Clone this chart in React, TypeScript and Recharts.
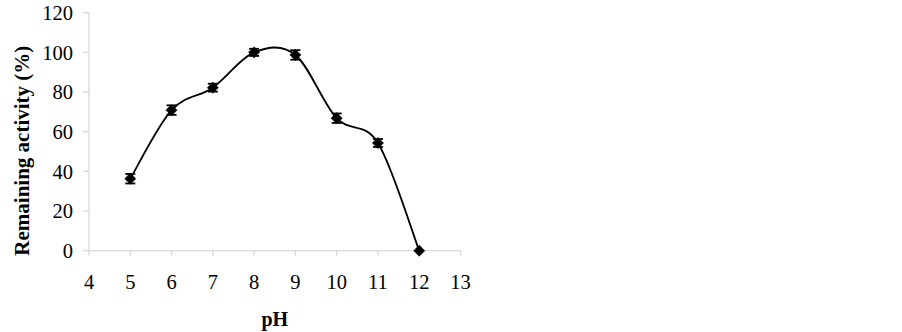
import React from "react";
import { LineChart, Line, XAxis, YAxis, ErrorBar } from "recharts";

const phValues = [5, 6, 7, 8, 9, 10, 11, 12];
const activity = [36.3, 70.9, 82.2, 100, 98.7, 66.8, 54.3, 0];
const errors = [2.4, 2.4, 2, 1.8, 2.4, 2.4, 2, 0];
const xTicks = [4, 5, 6, 7, 8, 9, 10, 11, 12, 13];
const yTicks = [0, 20, 40, 60, 80, 100, 120];

const data = phValues.map((ph, i) => ({ ph, act: activity[i], err: errors[i] }));

const FONT = "'Liberation Serif', 'Times New Roman', serif";
const GRAY = "#d9d9d9";

// Excel-like smoothed line (Catmull-Rom / cardinal tension 0)
function smoothCurve(context: any) {
  let pts: number[][] = [];
  return {
    areaStart() {},
    areaEnd() {},
    lineStart() {
      pts = [];
    },
    point(x: number, y: number) {
      pts.push([+x, +y]);
    },
    lineEnd() {
      const n = pts.length;
      if (!n) return;
      context.moveTo(pts[0][0], pts[0][1]);
      for (let i = 0; i < n - 1; i++) {
        const p0 = pts[Math.max(i - 1, 0)];
        const p1 = pts[i];
        const p2 = pts[i + 1];
        const p3 = pts[Math.min(i + 2, n - 1)];
        context.bezierCurveTo(
          p1[0] + (p2[0] - p0[0]) / 6,
          p1[1] + (p2[1] - p0[1]) / 6,
          p2[0] - (p3[0] - p1[0]) / 6,
          p2[1] - (p3[1] - p1[1]) / 6,
          p2[0],
          p2[1]
        );
      }
    },
  };
}

const Diamond = (props: any) => {
  const { cx, cy, index } = props;
  if (cx == null || cy == null) return <g key={index} />;
  const r = 5.6;
  return (
    <polygon
      key={index}
      points={`${cx},${cy - r} ${cx + r},${cy} ${cx},${cy + r} ${cx - r},${cy}`}
      fill="#000"
      stroke="#000"
      strokeWidth={0.5}
    />
  );
};

export default function App() {
  return (
    <div style={{ position: "absolute", left: 0, top: 0, background: "#fff" }}>
      <LineChart
        width={902}
        height={332}
        data={data}
        margin={{ top: 12.7, right: 441.5, bottom: 0, left: 0 }}
      >
        <XAxis
          dataKey="ph"
          type="number"
          domain={[4, 13]}
          ticks={xTicks}
          interval={0}
          height={81.3}
          axisLine={{ stroke: GRAY, strokeWidth: 1.3 }}
          tickLine={{ stroke: GRAY, strokeWidth: 1.3 }}
          tickSize={5}
          tickMargin={19}
          tick={{ fill: "#000", fontSize: 20.5, fontFamily: FONT }}
          label={{
            value: "pH",
            position: "insideBottom",
            offset: 6,
            style: { fill: "#000", fontSize: 20, fontWeight: "bold", fontFamily: FONT },
          }}
        />
        <XAxis
          xAxisId="top"
          orientation="top"
          dataKey="ph"
          type="number"
          domain={[4, 13]}
          height={0}
          tick={false}
          tickLine={false}
          axisLine={{ stroke: GRAY, strokeWidth: 1.3 }}
        />
        <YAxis
          type="number"
          domain={[0, 120]}
          ticks={yTicks}
          interval={0}
          width={89}
          axisLine={{ stroke: GRAY, strokeWidth: 1.3 }}
          tickLine={{ stroke: GRAY, strokeWidth: 1.3 }}
          tickSize={6}
          tickMargin={10}
          tick={{ fill: "#000", fontSize: 20.5, fontFamily: FONT }}
          label={{
            value: "Remaining activity (%)",
            angle: -90,
            position: "insideLeft",
            offset: 0,
            dx: 22,
            dy: 19,
            style: {
              fill: "#000",
              fontSize: 21,
              fontWeight: "bold",
              fontFamily: FONT,
              textAnchor: "middle",
            },
          }}
        />
        <YAxis
          yAxisId="right"
          orientation="right"
          type="number"
          domain={[0, 120]}
          width={0}
          tick={false}
          tickLine={false}
          axisLine={{ stroke: GRAY, strokeWidth: 1.3 }}
        />
        <Line
          dataKey="act"
          type={smoothCurve as any}
          stroke="#000"
          strokeWidth={1.8}
          dot={Diamond}
          activeDot={false}
          isAnimationActive={false}
        >
          <ErrorBar
            dataKey="err"
            direction="y"
            width={5}
            stroke="#000"
            strokeWidth={1.8}
            isAnimationActive={false}
          />
        </Line>
      </LineChart>
    </div>
  );
}
